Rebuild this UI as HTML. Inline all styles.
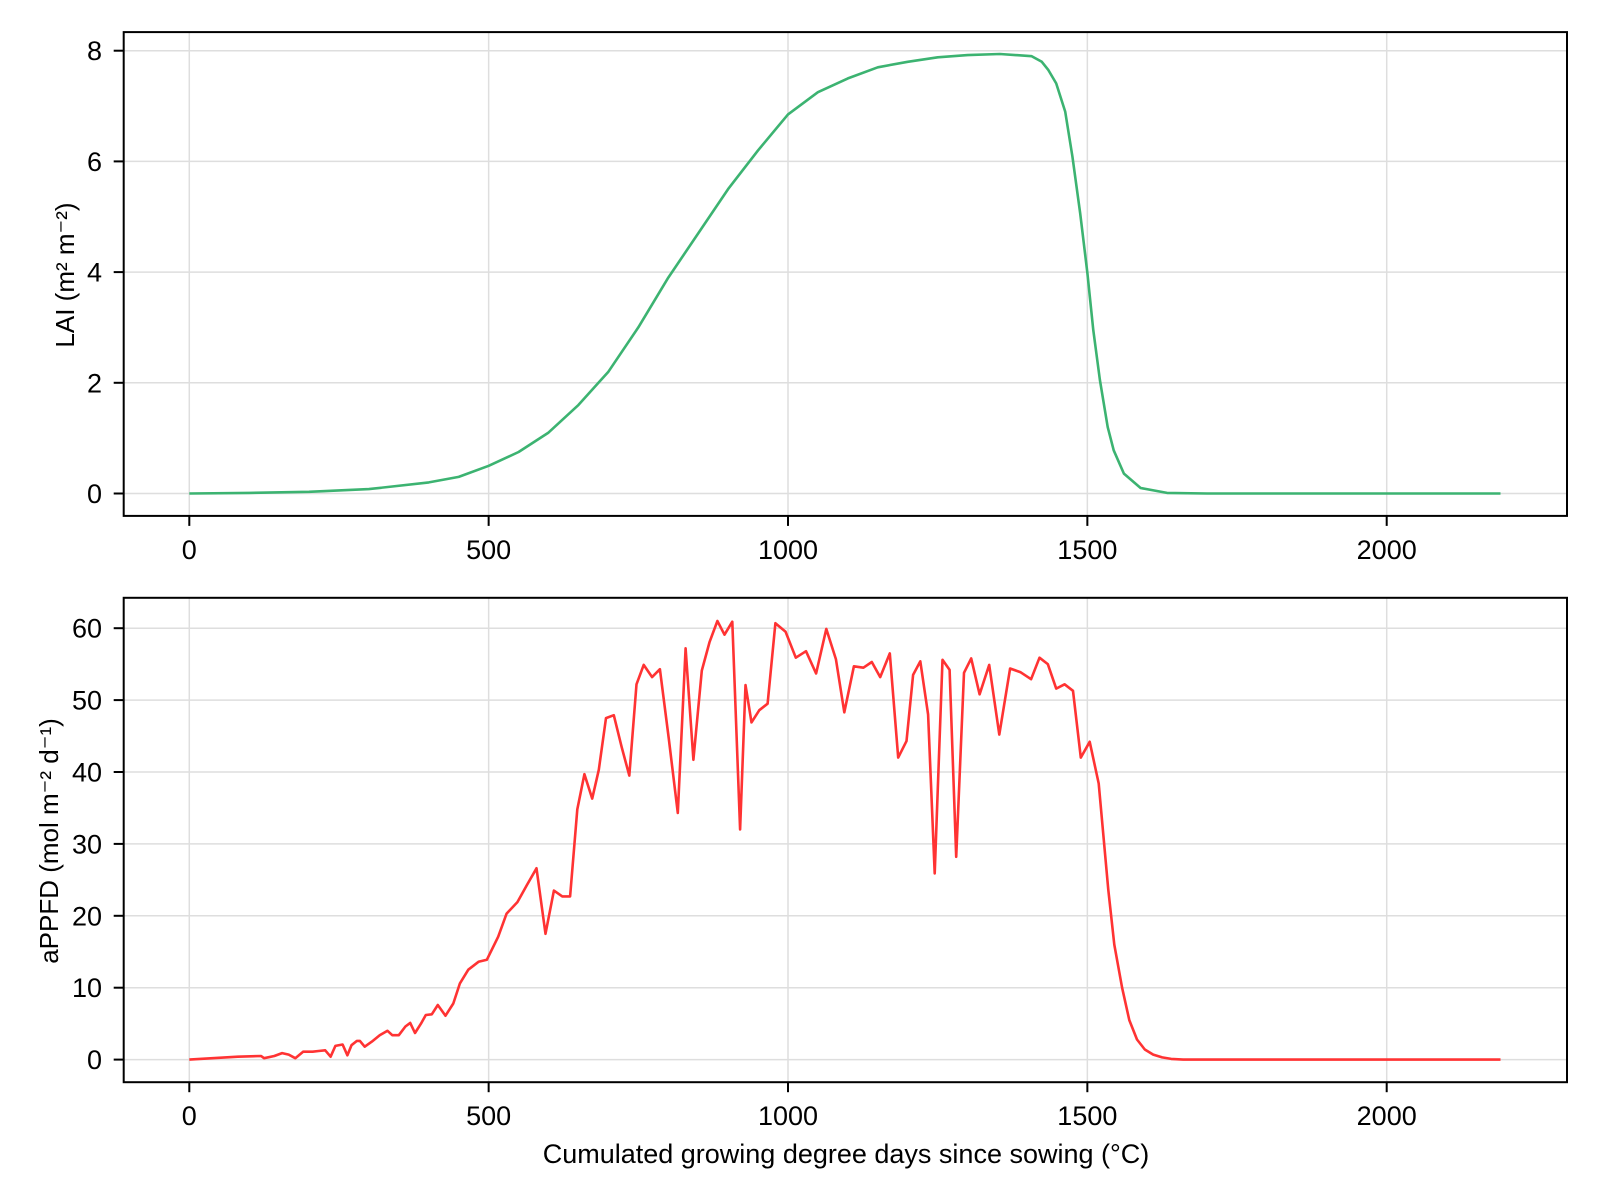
<!DOCTYPE html>
<html><head><meta charset="utf-8"><style>
html,body{margin:0;padding:0;background:#fff;}
svg{display:block;font-family:"Liberation Sans",Arial,sans-serif;}
</style></head><body>
<svg id="chart" width="1600" height="1200" viewBox="0 0 1600 1200" xmlns="http://www.w3.org/2000/svg"></svg>
<script>
const xTicks = [0, 500, 1000, 1500, 2000];
const laiTicks = [0, 2, 4, 6, 8];
const ppfdTicks = [0, 10, 20, 30, 40, 50, 60];
const laiX = [0,100,200,300,400,450,500,550,600,650,700,750,800,850,900,950,1000,1050,1100,1150,1200,1250,1300,1354,1407,1424,1435,1448,1463,1475,1488,1500,1510,1521,1534,1544,1561,1589,1633,1700,2190];
const laiY = [0,0.01,0.03,0.08,0.2,0.3,0.5,0.75,1.1,1.6,2.2,3.0,3.9,4.7,5.5,6.2,6.85,7.25,7.5,7.7,7.8,7.88,7.92,7.94,7.90,7.80,7.65,7.41,6.90,6.09,5.06,3.98,2.95,2.05,1.20,0.78,0.36,0.1,0.01,0,0];
const ppfdX = [0,81,120,125,142,155,166,177,190,206,216,227,236,244,256,264,271,280,285,293,305,318,331,339,350,361,369,377,387,395,405,415,428,441,452,466,483,497,516,530,548,564,580,595,609,623,636,648,660,673,684,696,709,722,735,747,759,773,786,801,816,829,842,856,869,882,894,907,920,929,939,952,966,979,996,1013,1030,1047,1064,1080,1094,1110,1126,1140,1154,1170,1184,1198,1209,1221,1234,1245,1258,1270,1281,1294,1306,1320,1336,1353,1371,1388,1406,1420,1434,1448,1462,1476,1489,1504,1519,1535,1545,1558,1570,1583,1596,1610,1625,1640,1660,2190];
const ppfdY = [0,0.4,0.5,0.2,0.5,0.9,0.7,0.2,1.1,1.1,1.2,1.3,0.4,1.9,2.1,0.6,2.0,2.6,2.6,1.8,2.5,3.4,4.0,3.4,3.4,4.6,5.1,3.7,5.0,6.2,6.3,7.6,6.1,7.8,10.6,12.5,13.6,13.9,17.1,20.3,21.9,24.3,26.6,17.5,23.5,22.7,22.7,34.8,39.7,36.3,40.3,47.5,47.9,43.5,39.5,52.2,54.9,53.2,54.3,44.5,34.3,57.2,41.7,54.1,58.1,61.0,59.1,60.9,32.0,52.1,46.9,48.6,49.5,60.7,59.5,55.9,56.8,53.7,59.9,55.7,48.3,54.7,54.5,55.3,53.2,56.5,42.0,44.3,53.5,55.4,48.0,25.9,55.6,54.2,28.2,53.8,55.8,50.8,54.9,45.2,54.4,53.9,52.9,55.9,55.0,51.6,52.2,51.3,42.0,44.2,38.4,23.6,16,10,5.5,2.8,1.4,0.7,0.3,0.1,0,0];

const NS = "http://www.w3.org/2000/svg";
const svg = document.getElementById('chart');
function mk(tag, attrs, parent){const e=document.createElementNS(NS,tag);for(const k in attrs)e.setAttribute(k,attrs[k]);(parent||svg).appendChild(e);return e;}
const xs = v => 189.3 + v * 0.5987;
const L = 123.7, R = 1567;

function panel(name, top, bottom, yZero, yPer, yTicks, xs_, ys_, color, ylabel, ylabelY){
  const g = mk('g', {});
  
  
  const ys = v => yZero - v * yPer;
  xTicks.forEach(t => {
    const l = mk('line', {x1:xs(t),x2:xs(t),y1:top,y2:bottom,stroke:'#dedede','stroke-width':1.5}, g);
    
    
  });
  yTicks.forEach(t => {
    const l = mk('line', {x1:L,x2:R,y1:ys(t),y2:ys(t),stroke:'#dedede','stroke-width':1.5}, g);
    
    
  });
  const pts = xs_.map((x,i) => xs(x).toFixed(1) + ',' + ys(ys_[i]).toFixed(1)).join(' ');
  const line = mk('polyline', {points:pts, fill:'none', stroke:color, 'stroke-width':2.6, 'stroke-linejoin':'round'}, g);
  
  
  const fr = mk('rect', {x:L,y:top,width:R-L,height:bottom-top,fill:'none',stroke:'#000','stroke-width':2}, g);
  
  
  xTicks.forEach(t => {
    const tk = mk('line', {x1:xs(t),x2:xs(t),y1:bottom,y2:bottom+10,stroke:'#000','stroke-width':2}, g);
    
    
    const tx = mk('text', {x:xs(t),y:bottom+43,'font-size':27,'text-anchor':'middle',fill:'#000'}, g);
    
    
    tx.textContent = t;
  });
  yTicks.forEach(t => {
    const tk = mk('line', {x1:L-10,x2:L,y1:ys(t),y2:ys(t),stroke:'#000','stroke-width':2}, g);
    
    
    const tx = mk('text', {x:102,y:ys(t)+9.5,'font-size':27,'text-anchor':'end',fill:'#000'}, g);
    
    
    tx.textContent = t;
  });
  const yl = mk('text', {x:0,y:0,'font-size':26,'text-anchor':'middle',fill:'#000',transform:'translate(' + (name==='lai'?74:58) + ',' + ylabelY + ') rotate(-90)'}, g);
  
  
  yl.textContent = ylabel;
}
panel('lai', 32.1, 515.9, 493.5, 55.35, laiTicks, laiX, laiY, '#3cb371', 'LAI (m² m⁻²)', 275);
panel('appfd', 597.8, 1082.2, 1059.6, 7.19, ppfdTicks, ppfdX, ppfdY, '#ff3333', 'aPPFD (mol m⁻² d⁻¹)', 841);
const xl = mk('text', {x:846,y:1163,'font-size':27,'text-anchor':'middle',fill:'#000'});


xl.textContent = 'Cumulated growing degree days since sowing (°C)';
</script>
</body></html>
